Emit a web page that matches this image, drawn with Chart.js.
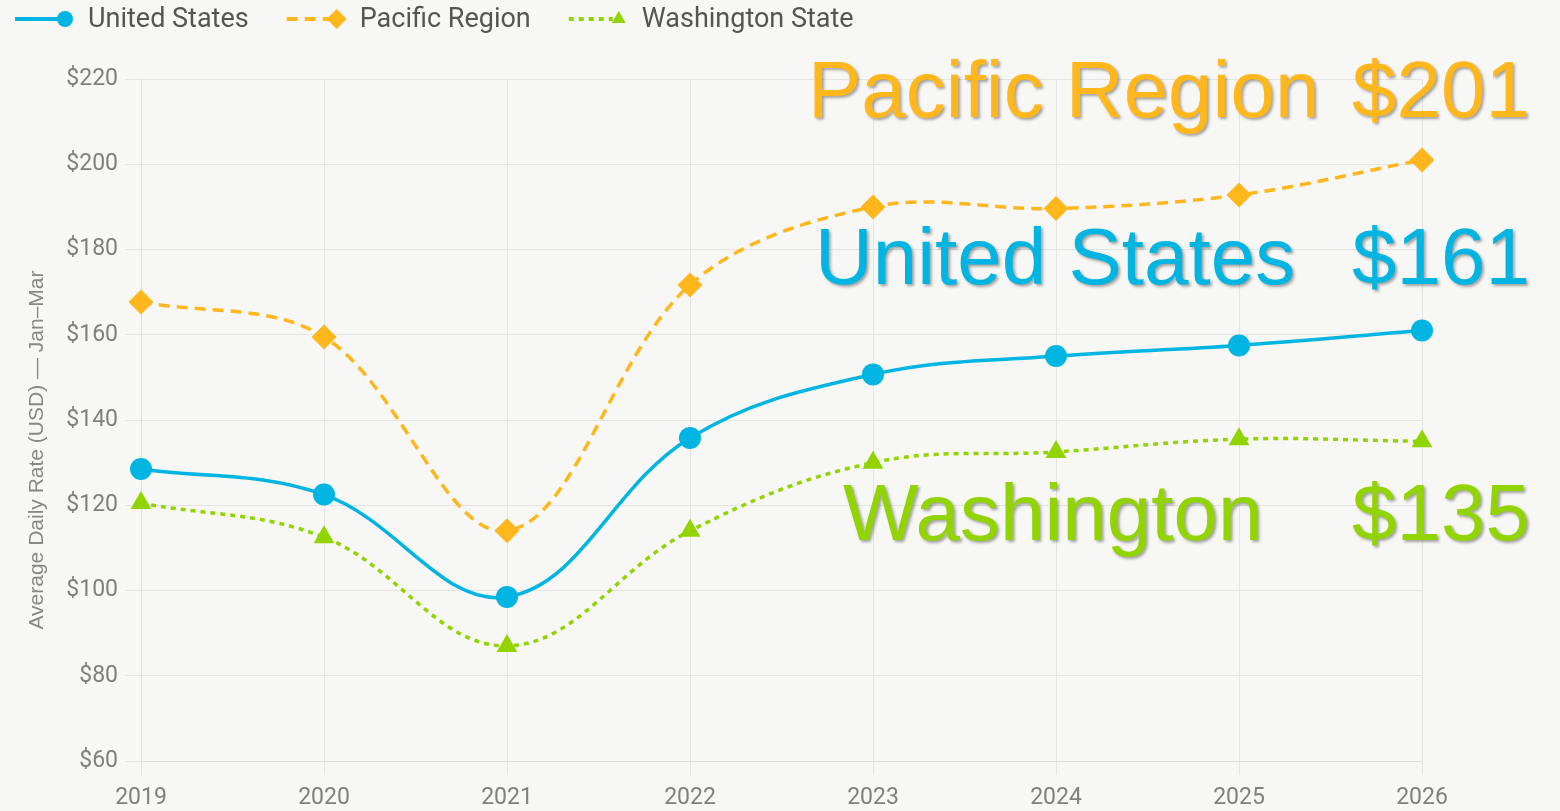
<!DOCTYPE html>
<html>
<head>
<meta charset="utf-8">
<script src="https://cdn.jsdelivr.net/npm/chart.js@4.4.1/dist/chart.umd.min.js"></script>
<style>
html, body { margin: 0; padding: 0; background: #f7f7f5; }
#wrap { position: relative; width: 1560px; height: 811px; }
</style>
</head>
<body>
<div id="wrap"><canvas id="rateChart"></canvas></div>
<script>
// data
var years = ['2019', '2020', '2021', '2022', '2023', '2024', '2025', '2026'];
var usRates = [128.5, 122.5, 98.5, 135.8, 150.7, 155, 157.5, 161];
var pacificRates = [167.7, 159.5, 114, 171.7, 190, 189.6, 192.8, 201];
var waRates = [120.5, 112.5, 87, 114, 130, 132.5, 135.5, 135];
var seriesNames = ['United States', 'Pacific Region', 'Washington State'];
var calloutNames = ['United States', 'Pacific Region', 'Washington'];
var calloutValues = ['$161', '$201', '$135'];
var yTitle = 'Average Daily Rate (USD) — Jan–Mar';

var blue = 'rgb(0,181,226)';
var orange = 'rgb(255,183,27)';
var green = 'rgb(146,212,0)';

//small marker drawer for the legend
function drawMarker(ctx, style, x, y, r, color) {
    ctx.fillStyle = color;
    ctx.beginPath();
    if (style == 'circle') {
        ctx.arc(x, y, r, 0, Math.PI * 2);
    } else if (style == 'rectRot') {
        ctx.moveTo(x - r, y); ctx.lineTo(x, y - r); ctx.lineTo(x + r, y); ctx.lineTo(x, y + r);
    } else {
        ctx.moveTo(x, y - r); ctx.lineTo(x + r * 0.87, y + r * 0.5); ctx.lineTo(x - r * 0.87, y + r * 0.5);
    }
    ctx.closePath();
    ctx.fill();
}

//legend drawn at the top left, line + marker + label
var topLegend = {
    id: 'topLegend',
    afterDraw: function (chart) {
        var ctx = chart.ctx;
        var x = 15, y = 19;
        ctx.save();
        ctx.font = '27px Roboto';
        ctx.textBaseline = 'middle';
        chart.data.datasets.forEach(function (ds) {
            ctx.strokeStyle = ds.borderColor;
            ctx.lineWidth = 4;
            ctx.setLineDash(ds.borderDash || []);
            ctx.beginPath();
            ctx.moveTo(x, y);
            ctx.lineTo(x + 44, y);
            ctx.stroke();
            ctx.setLineDash([]);
            var r = ds.pointStyle == 'rectRot' ? 10 : 8;
            drawMarker(ctx, ds.pointStyle, x + 50, y, r, ds.borderColor);
            ctx.fillStyle = '#555';
            ctx.fillText(ds.label, x + 73, y + 1);
            x += 73 + ctx.measureText(ds.label).width + 38;
        });
        ctx.restore();
    }
};

//rotated axis title, sits a little below the middle like the source
var sideTitle = {
    id: 'sideTitle',
    afterDraw: function (chart) {
        var ctx = chart.ctx;
        ctx.save();
        ctx.translate(37, 450);
        ctx.rotate(-Math.PI / 2);
        ctx.font = '21px "Liberation Sans"';
        ctx.fillStyle = '#888';
        ctx.textAlign = 'center';
        ctx.textBaseline = 'middle';
        ctx.fillText(yTitle, 0, 0);
        ctx.restore();
    }
};

//big coloured callouts on the right
var callouts = {
    id: 'callouts',
    afterDraw: function (chart) {
        var ctx = chart.ctx;
        var spots = [[815, 284, blue], [808, 117, orange], [843, 540, green]];
        ctx.save();
        ctx.font = '80px "Liberation Sans"';
        ctx.textBaseline = 'alphabetic';
        ctx.shadowColor = 'rgba(0,0,0,0.35)';
        ctx.shadowOffsetX = 2;
        ctx.shadowOffsetY = 2;
        ctx.shadowBlur = 3;
        spots.forEach(function (s, i) {
            ctx.fillStyle = s[2];
            ctx.fillText(calloutNames[i], s[0], s[1]);
            ctx.fillText(calloutValues[i], 1352, s[1]);
        });
        ctx.restore();
    }
};

var lineData = {
    labels: years,
    datasets: [
        {
            label: seriesNames[0],
            data: usRates,
            borderColor: blue,
            backgroundColor: blue,
            borderWidth: 3.5,
            pointStyle: 'circle',
            pointRadius: 11,
            pointBorderWidth: 0,
            tension: 0.38
        },
        {
            label: seriesNames[1],
            data: pacificRates,
            borderColor: orange,
            backgroundColor: orange,
            borderWidth: 3.5,
            borderDash: [11, 7],
            pointStyle: 'rectRot',
            pointRadius: 12.5,
            pointBorderWidth: 0,
            tension: 0.35
        },
        {
            label: seriesNames[2],
            data: waRates,
            borderColor: green,
            backgroundColor: green,
            borderWidth: 3.5,
            borderDash: [5, 5],
            pointStyle: 'triangle',
            pointRadius: 12,
            pointBorderWidth: 0,
            tension: 0.38
        }
    ]
};

var lineOptions = {
    responsive: true,
    maintainAspectRatio: false,
    animation: false,
    layout: { padding: { left: 20, right: 138, top: 79, bottom: 0 } },
    plugins: {
        legend: { display: false },
        tooltip: { enabled: false }
    },
    scales: {
        x: {
            offset: false,
            grid: { color: '#e4e4e2', tickLength: 14 },
            border: { color: '#dcdcda' },
            ticks: { color: '#808080', font: { size: 23, family: 'Roboto' }, padding: 9 },
            afterFit: function (scale) { scale.height = 50; }
        },
        y: {
            min: 60,
            max: 220,
            grid: { color: '#e4e4e2', tickLength: 16 },
            border: { color: '#dcdcda' },
            ticks: {
                stepSize: 20,
                color: '#808080',
                font: { size: 23, family: 'Roboto' },
                padding: 7,
                callback: function (v) { return '$' + v; }
            },
            afterFit: function (scale) { scale.width = 121; }
        }
    }
};

var rateChart = new Chart(document.getElementById('rateChart').getContext('2d'), {
    type: 'line',
    data: lineData,
    options: lineOptions,
    plugins: [topLegend, sideTitle, callouts]
});
</script>
</body>
</html>
